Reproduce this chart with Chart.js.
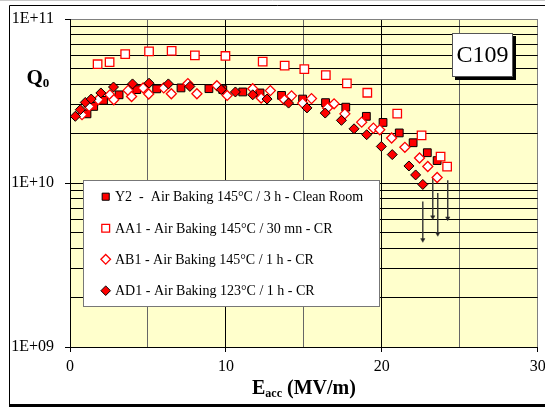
<!DOCTYPE html>
<html>
<head>
<meta charset="utf-8">
<script src="https://cdn.jsdelivr.net/npm/chart.js@4.4.1/dist/chart.umd.min.js"></script>
<style>
  html, body { margin: 0; padding: 0; background: #fff; }
  #wrap { width: 545px; height: 409px; }
</style>
</head>
<body>
<div id="wrap"><canvas id="c" width="545" height="409"></canvas></div>
<script>
const SERIF = "'Liberation Serif', 'Times New Roman', serif";
const PLOT_BG = "#ffffcc";
const RED = "#ff0000";

const SERIES_LABELS = [
  "Y2  -  Air Baking 145°C / 3 h - Clean Room",
  "AA1 - Air Baking 145°C / 30 mn - CR",
  "AB1 - Air Baking 145°C / 1 h - CR",
  "AD1 - Air Baking 123°C / 1 h - CR",
];

// Eacc (MV/m) and Q0 per cavity run
const Y2_E = [1.09, 1.52, 2.15, 3.15, 4.28, 5.56, 7.12, 8.91, 9.80, 11.08, 12.19, 13.57, 14.92, 16.39, 17.69, 19.01, 20.08, 21.12, 22.01, 22.92, 23.55];
const Y2_Q = [2.64e10, 2.93e10, 3.19e10, 3.45e10, 3.71e10, 3.75e10, 3.80e10, 3.76e10, 3.71e10, 3.59e10, 3.54e10, 3.42e10, 3.25e10, 3.09e10, 2.90e10, 2.55e10, 2.34e10, 2.02e10, 1.76e10, 1.53e10, 1.37e10];

const AA1_E = [1.77, 2.54, 3.54, 5.07, 6.52, 8.01, 9.97, 12.36, 13.77, 15.03, 16.41, 17.76, 19.07, 20.99, 22.55, 23.77, 24.19];
const AA1_Q = [5.3e10, 5.45e10, 6.1e10, 6.35e10, 6.4e10, 6.0e10, 5.95e10, 5.5e10, 5.2e10, 4.95e10, 4.55e10, 4.05e10, 3.55e10, 2.65e10, 1.95e10, 1.45e10, 1.26e10];

const AB1_E = [0.77, 1.23, 1.81, 2.56, 2.81, 3.73, 3.95, 4.69, 5.05, 6.01, 6.50, 7.56, 8.14, 9.42, 10.08, 11.72, 12.26, 12.85, 13.75, 14.21, 14.92, 15.49, 16.52, 16.94, 17.63, 18.71, 19.46, 19.87, 20.63, 21.48, 22.42, 22.95, 23.55];
const AB1_Q = [2.61e10, 2.93e10, 3.22e10, 3.45e10, 3.22e10, 3.67e10, 3.37e10, 3.80e10, 3.49e10, 3.80e10, 3.50e10, 4.04e10, 3.50e10, 3.92e10, 3.42e10, 3.76e10, 3.30e10, 3.66e10, 3.22e10, 3.40e10, 3.07e10, 3.27e10, 2.87e10, 3.04e10, 2.64e10, 2.35e10, 2.16e10, 2.11e10, 1.88e10, 1.65e10, 1.42e10, 1.26e10, 1.08e10];

const AD1_E = [0.34, 0.66, 0.98, 1.36, 1.98, 2.79, 4.01, 5.07, 6.31, 7.69, 9.70, 10.61, 11.72, 12.64, 14.02, 15.20, 16.37, 17.41, 18.22, 19.03, 19.97, 20.67, 21.74, 22.17, 22.63];
const AD1_Q = [2.55e10, 2.80e10, 3.10e10, 3.25e10, 3.54e10, 3.85e10, 4.02e10, 4.06e10, 4.02e10, 3.88e10, 3.71e10, 3.59e10, 3.45e10, 3.25e10, 3.07e10, 2.87e10, 2.67e10, 2.41e10, 2.14e10, 1.97e10, 1.67e10, 1.49e10, 1.27e10, 1.12e10, 0.98e10];

// field-emission limited points: Q0 drops below these
const ARROW_E = [22.63, 23.27, 23.59, 24.23];
const ARROW_TOP = [7.7e9, 1.09e10, 8.7e9, 1.04e10];
const ARROW_BOTTOM = [4.5e9, 6.2e9, 4.9e9, 6.1e9];

const X_MIN = 0, X_MAX = 30, X_STEP = 5;
const Q_MAJOR = [1e9, 1e10, 1e11];

function pts(xs, ys) {
  return xs.map((x, i) => ({ x, y: ys[i] }));
}

function arrowPts() {
  const out = [];
  ARROW_E.forEach((x, i) => {
    out.push({ x, y: ARROW_TOP[i] }, { x, y: ARROW_BOTTOM[i] }, { x, y: null });
  });
  return out;
}

function fmtQ(v) {
  const e = Math.round(Math.log10(v));
  return "1E+" + String(e).padStart(2, "0");
}

const decor = {
  id: "decor",
  beforeDraw(chart) {
    const { ctx, chartArea: a } = chart;
    ctx.save();
    ctx.fillStyle = PLOT_BG;
    ctx.fillRect(a.left, a.top, a.right - a.left, a.bottom - a.top);
    ctx.restore();
  },
  afterDraw(chart) {
    const ctx = chart.ctx;
    ctx.save();

    // outer frame
    ctx.strokeStyle = "#c8c8c8";
    ctx.lineWidth = 1;
    ctx.beginPath(); ctx.moveTo(0, 0.5); ctx.lineTo(545, 0.5); ctx.stroke();
    ctx.strokeStyle = "#000";
    ctx.beginPath();
    ctx.moveTo(545, 5.5); ctx.lineTo(9.5, 5.5); ctx.lineTo(9.5, 405);
    ctx.stroke();
    ctx.fillStyle = "#000";
    ctx.fillRect(9, 404, 536, 3);

    // C109 box
    ctx.fillStyle = "#000";
    ctx.fillRect(455, 36, 61, 44);
    ctx.fillStyle = "#fff";
    ctx.fillRect(452, 33, 61, 44);
    ctx.strokeStyle = "#555";
    ctx.strokeRect(452.5, 33.5, 60, 43);
    ctx.fillStyle = "#000";
    ctx.font = "24px " + SERIF;
    ctx.textAlign = "center";
    ctx.textBaseline = "middle";
    ctx.fillText("C109", 482.5, 56);

    // legend
    ctx.fillStyle = "#fff";
    ctx.fillRect(83, 180, 296, 126);
    ctx.strokeStyle = "#777";
    ctx.strokeRect(83.5, 180.5, 296, 126);
    const rows = [196.7, 228.3, 259.3, 290.7];
    ctx.font = "14px " + SERIF;
    ctx.textAlign = "left";
    ctx.textBaseline = "middle";
    chart.data.datasets.slice(0, 4).forEach((ds, i) => {
      ctx.fillStyle = ds.backgroundColor;
      ctx.strokeStyle = ds.borderColor;
      ctx.lineWidth = ds.borderWidth;
      Chart.helpers.drawPoint(ctx, {
        pointStyle: ds.pointStyle,
        radius: ds.legendRadius,
        rotation: 0,
        borderWidth: ds.borderWidth,
      }, 105.7, rows[i]);
      ctx.fillStyle = "#000";
      ctx.fillText(ds.label, 115, rows[i] + 1);
    });

    // axis titles
    ctx.fillStyle = "#000";
    ctx.textBaseline = "alphabetic";
    ctx.textAlign = "left";
    let x = 252;
    ctx.font = "bold 20px " + SERIF;
    ctx.fillText("E", x, 394);
    x += ctx.measureText("E").width;
    ctx.font = "bold 12px " + SERIF;
    ctx.fillText("acc", x, 397);
    x += ctx.measureText("acc").width;
    ctx.font = "bold 20px " + SERIF;
    ctx.fillText(" (MV/m)", x, 394);

    ctx.font = "bold 21px " + SERIF;
    ctx.fillText("Q", 26.5, 84);
    const qw = ctx.measureText("Q").width;
    ctx.font = "bold 13px " + SERIF;
    ctx.fillText("0", 26.5 + qw, 87);

    ctx.restore();
  },
};

const datasets = [
  {
    label: SERIES_LABELS[0], data: pts(Y2_E, Y2_Q), order: 4,
    pointStyle: "rect", pointRadius: 5.5, legendRadius: 5,
    backgroundColor: RED, borderColor: "#000", borderWidth: 1,
  },
  {
    label: SERIES_LABELS[1], data: pts(AA1_E, AA1_Q), order: 3,
    pointStyle: "rect", pointRadius: 6, legendRadius: 5.5,
    backgroundColor: "#fff", borderColor: RED, borderWidth: 1.3,
  },
  {
    label: SERIES_LABELS[2], data: pts(AB1_E, AB1_Q), order: 2,
    pointStyle: "rectRot", pointRadius: 5, legendRadius: 4.8,
    backgroundColor: "#fff", borderColor: RED, borderWidth: 1.3,
  },
  {
    label: SERIES_LABELS[3], data: pts(AD1_E, AD1_Q), order: 1,
    pointStyle: "rectRot", pointRadius: 5, legendRadius: 4.8,
    backgroundColor: RED, borderColor: "#000", borderWidth: 1,
  },
  {
    label: "limits", data: arrowPts(), order: 5,
    showLine: true, spanGaps: false,
    borderColor: "#333", borderWidth: 1.4,
    backgroundColor: "#222",
    pointStyle: "triangle", rotation: 180,
    pointRadius: (c) => (c.index % 3 === 1 ? 2.5 : 0),
    pointBorderWidth: 0.5,
  },
];

new Chart(document.getElementById("c"), {
  type: "scatter",
  data: { datasets },
  plugins: [decor],
  options: {
    responsive: false,
    animation: false,
    layout: { padding: { left: 0, right: 6, top: 19, bottom: 0 } },
    plugins: { legend: { display: false }, tooltip: { enabled: false } },
    scales: {
      x: {
        type: "linear", min: X_MIN, max: X_MAX,
        border: { display: true, color: "#000", width: 1 },
        grid: {
          color: (c) => (c.tick.value === X_MAX ? "#808080" : c.tick.value % 10 === 0 ? "#000" : "#666"),
          tickColor: (c) => (c.tick.value % 10 === 0 ? "#000" : "transparent"),
          tickLength: 5,
        },
        ticks: {
          stepSize: X_STEP, maxRotation: 0, autoSkip: false, padding: 5,
          color: "#000", font: { family: SERIF, size: 16 },
          callback: (v) => (v % 10 === 0 ? String(v) : ""),
        },
        afterFit: (s) => { s.height = 62; s.paddingLeft = 0; s.paddingRight = 0; },
      },
      y: {
        type: "logarithmic", min: 1e9, max: 1e11,
        border: { display: true, color: "#000", width: 1 },
        afterBuildTicks: (s) => {
          const t = [];
          for (let d = 0; d < Q_MAJOR.length - 1; d++) {
            for (let k = 1; k <= 9; k++) t.push({ value: k * Q_MAJOR[d], major: k === 1 });
          }
          t.push({ value: Q_MAJOR[Q_MAJOR.length - 1], major: true });
          s.ticks = t;
        },
        grid: {
          color: (c) => (c.tick.value === 1e11 ? "#808080" : "#000"),
          tickColor: (c) => (Q_MAJOR.includes(c.tick.value) ? "#000" : "transparent"),
          tickLength: 5,
        },
        ticks: {
          autoSkip: false, padding: 11, color: "#000",
          font: { family: SERIF, size: 16 },
          callback: (v) => (Q_MAJOR.includes(v) ? fmtQ(v) : ""),
        },
        afterFit: (s) => { s.width = 70; s.paddingTop = 0; s.paddingBottom = 0; },
      },
    },
  },
});
</script>
</body>
</html>
